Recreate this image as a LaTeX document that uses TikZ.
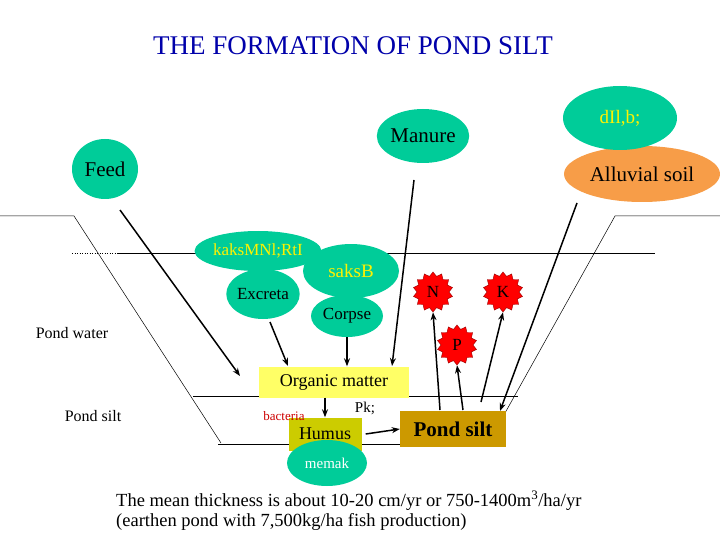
\documentclass[tikz,border=0pt]{standalone}
\usepackage{fontspec}
\setmainfont{Liberation Serif}
\usetikzlibrary{shapes.geometric,arrows.meta}
\definecolor{tealg}{RGB}{0,204,153}
\definecolor{orng}{RGB}{247,157,72}
\definecolor{yel}{RGB}{255,255,102}
\definecolor{olv}{RGB}{204,204,0}
\definecolor{gold}{RGB}{204,153,0}
\definecolor{ttl}{RGB}{0,0,170}
\begin{document}
\begin{tikzpicture}[x=1pt,y=-1pt,
 ell/.style={ellipse,fill=tealg,inner sep=0pt},
 fs/.style={font=\fontsize{#1}{#1}\selectfont},
 fsb/.style={font=\fontsize{#1}{#1}\selectfont\bfseries},
 arr/.style={-{Stealth[length=8,width=6]},line width=1.5},
 thin line/.style={line width=0.5},
 burst/.style={star,star points=14,star point ratio=1.25,fill=red,draw=red!60!black,minimum size=40,inner sep=0pt,fs=17}]
\useasboundingbox (0,0) rectangle (720,540);
\node[fs=27,text=ttl] (title) at (353,46) {THE FORMATION OF POND SILT};
% pond profile
\coordinate (gl) at (0,216); \coordinate (tl) at (74,216); \coordinate (bl) at (221,443);
\coordinate (gr) at (720,216); \coordinate (tr) at (615,216); \coordinate (br) at (505,413);
\draw[thin line] (gl)--(tl)--(bl);
\draw[thin line] (gr)--(tr)--(br);
\coordinate (w1) at (72,253); \coordinate (w2) at (118,253); \coordinate (w3) at (655,253);
\draw[thin line,dotted] (w1)--(w2); \draw[thin line] (w2)--(w3);
\coordinate (s1) at (193,396); \coordinate (s2) at (518,396);
\draw[thin line] (s1)--(s2);
\coordinate (s3) at (218,444); \coordinate (s4) at (402,444);
\draw[thin line] (s3)--(s4);
% nodes
\node[ell,fill=orng,minimum width=156,minimum height=56,fs=21] (all) at (642,174) {Alluvial soil};
\node[ell,minimum width=114,minimum height=64,fs=19,text=yellow] (dil) at (620,118) {dIl,b;};
\node[ell,minimum width=90,minimum height=54,fs=21] (man) at (423,136) {Manure};
\node[ell,minimum width=66,minimum height=60,fs=21] (feed) at (105,169) {Feed};
\node[ell,minimum width=70,minimum height=50,fs=17] (exc) at (263,294) {Excreta};
\node[ell,minimum width=116,minimum height=40,fs=17,text=yellow] (kak) at (258,251) {kaksMNl;RtI};
\node[ell,minimum width=72,minimum height=42,fs=17] (cor) at (347,316) {Corpse};
\node[ell,minimum width=96,minimum height=54,fs=19,text=yellow] (sak) at (351,271) {saksB};
\node[burst] (N) at (433,292) {N};
\node[burst] (K) at (503,292) {K};
\node[burst] (P) at (457,345) {P};
\node[fs=16] (pw) at (72,333) {Pond water};
\node[fs=16] (ps) at (93,416) {Pond silt};
\node[fill=yel,minimum width=150,minimum height=31,fs=18,inner sep=0pt] (om) at (334,382) {Organic matter};
\node[fill=olv,minimum width=73,minimum height=33,fs=18,inner sep=0pt] (hum) at (325,434) {Humus};
\node[ell,minimum width=80,minimum height=46,fs=15,text=white] (mem) at (327,463) {memak};
\node[fill=gold,minimum width=106,minimum height=36,fsb=21,inner sep=0pt] (silt) at (453,429) {Pond silt};
\node[fs=13,text=red!80!black] (bac) at (284,416) {bacteria};
\node[fs=15] (pk) at (365,408) {Pk;};
\node[fs=18.5,align=left,anchor=north west,inner sep=0pt] (txt) at (116,491) {The mean thickness is about 10-20 cm/yr or 750-1400m\textsuperscript{3}/ha/yr\\[2pt](earthen pond with 7,500kg/ha fish production)};
% arrows
\coordinate (fa) at (120,210); \coordinate (fb) at (240,376);
\draw[arr] (fa)--(fb);
\coordinate (ea) at (270,322); \coordinate (eb) at (288,366);
\draw[arr] (ea)--(eb);
\draw[arr] (cor.south)--(cor.south|-om.north);
\coordinate (ma) at (414,180); \coordinate (mb) at (392,366);
\draw[arr] (ma)--(mb);
\draw[arr] (om.south-|hum.north)--(hum.north);
\draw[arr] ([xshift=4]hum.east)--(silt.west);
\coordinate (na) at (440,410); \draw[arr] (na)--(N.south);
\coordinate (pa) at (463,410); \draw[arr] (pa)--(P.south);
\coordinate (ka) at (481,402); \draw[arr] (ka)--(K.south);
\coordinate (aa) at (577,203); \coordinate (ab) at (500,411);
\draw[arr] (aa)--(ab);
\end{tikzpicture}
\end{document}
